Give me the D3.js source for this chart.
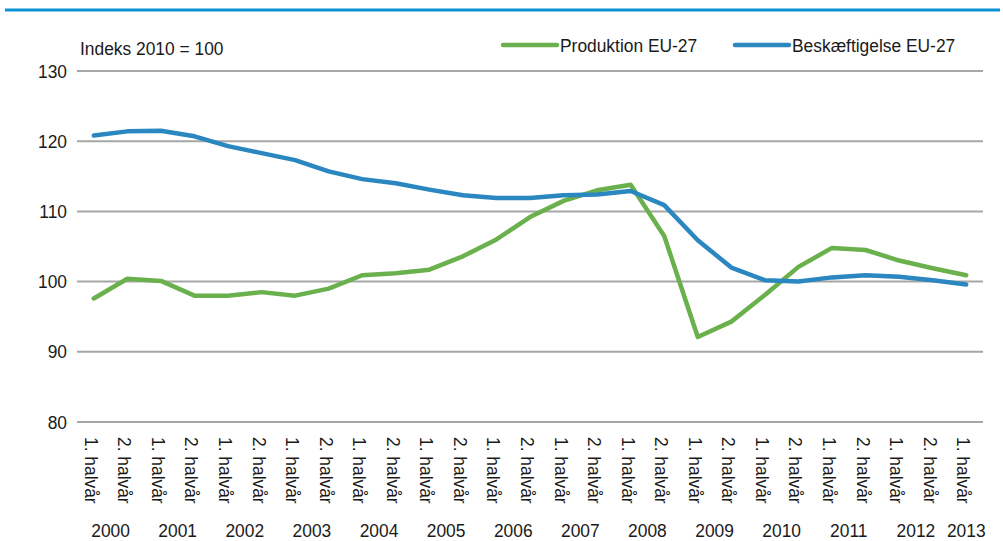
<!DOCTYPE html>
<meta charset="utf-8">
<style>
body {
  margin: 0;
  background: white;
  font-family: "Liberation Sans", Arial, sans-serif;
}
.grid line { stroke: #a6a6a6; stroke-width: 2px; }
.series { fill: none; stroke-width: 4.5px; stroke-linejoin: round; stroke-linecap: round; }
text { fill: #1a1a1a; font-size: 19px; }
</style>
<body>
<div id="chart"></div>
<script src="https://cdn.jsdelivr.net/npm/d3@7"></script>
<script>

var years = [2000, 2001, 2002, 2003, 2004, 2005, 2006, 2007, 2008, 2009, 2010, 2011, 2012, 2013];
var halves = ["1. halvår", "2. halvår"];

// 2000 H1 .. 2013 H1
var produktion = [97.6, 100.4, 100.1, 98.0, 98.0, 98.5, 98.0, 99.0, 100.9, 101.2, 101.7, 103.6,
                  106.0, 109.2, 111.5, 113.0, 113.8, 106.5, 92.1, 94.3, 98.1, 102.1, 104.8, 104.5,
                  103.0, 101.9, 100.9];
var beskaeftigelse = [120.8, 121.4, 121.5, 120.7, 119.3, 118.3, 117.3, 115.7, 114.6, 114.0, 113.1, 112.3,
                      111.9, 111.9, 112.3, 112.4, 112.9, 110.9, 105.9, 102.0, 100.2, 100.0, 100.6, 100.9,
                      100.7, 100.2, 99.6];
var yTicks = [80, 90, 100, 110, 120, 130];

var periods = [];
years.forEach(function(y) {
  halves.forEach(function(h, i) {
    if (periods.length < produktion.length) periods.push({ year: y, half: h, key: y + "-" + (i + 1) });
  });
});

var width = 1003, height = 541;
var margin = { left: 77, right: 20, top: 71, bottom: 119 };
var narrow = 0.915; // squeeze text to look like Arial Narrow

function at(x, y) {
  return "translate(" + x + "," + y + ") scale(" + narrow + ",1)";
}

var svg = d3.select("#chart").append("svg")
  .attr("width", width)
  .attr("height", height);

// top rule
svg.append("line")
  .attr("x1", 5).attr("x2", 1000)
  .attr("y1", 10).attr("y2", 10)
  .attr("stroke", "#0a94d6")
  .attr("stroke-width", 3);

var x = d3.scaleBand()
  .domain(periods.map(function(d) { return d.key; }))
  .range([margin.left, width - margin.right]);

var y = d3.scaleLinear()
  .domain([80, 130])
  .range([height - margin.bottom, margin.top]);

var grid = svg.append("g").attr("class", "grid");
grid.selectAll("line")
  .data(yTicks)
  .enter().append("line")
  .attr("x1", margin.left).attr("x2", width - margin.right)
  .attr("y1", function(d) { return y(d); })
  .attr("y2", function(d) { return y(d); });

svg.append("g").selectAll("text")
  .data(yTicks)
  .enter().append("text")
  .attr("transform", function(d) { return at(67, y(d)); })
  .attr("dy", "0.35em")
  .attr("text-anchor", "end")
  .text(function(d) { return d; });

svg.append("text")
  .attr("transform", at(80, 55))
  .text("Indeks 2010 = 100");

var cx = function(d) { return x(d) + x.bandwidth() / 2; };

// half-year labels, rotated
svg.append("g").selectAll("text")
  .data(periods)
  .enter().append("text")
  .attr("transform", function(d) {
    return "translate(" + (cx(d.key) - 9) + ",437) rotate(90) scale(" + narrow + ",1)";
  })
  .text(function(d) { return d.half; });

// year labels
svg.append("g").selectAll("text")
  .data(years)
  .enter().append("text")
  .attr("transform", function(yr) {
    var ks = periods.filter(function(p) { return p.year === yr; }).map(function(p) { return cx(p.key); });
    return at(d3.mean(ks), 537);
  })
  .attr("text-anchor", "middle")
  .text(function(d) { return d; });

var line = d3.line()
  .x(function(d, i) { return cx(periods[i].key); })
  .y(function(d) { return y(d); });

var series = [
  { name: "Produktion EU-27", values: produktion, color: "#6ab14d" },
  { name: "Beskæftigelse EU-27", values: beskaeftigelse, color: "#2a87c0" }
];

svg.selectAll("path.series")
  .data(series)
  .enter().append("path")
  .attr("class", "series")
  .attr("stroke", function(d) { return d.color; })
  .attr("d", function(d) { return line(d.values); });

// legend
var legendX = [503, 735];
var legend = svg.selectAll("g.legend")
  .data(series)
  .enter().append("g")
  .attr("class", "legend")
  .attr("transform", function(d, i) { return "translate(" + legendX[i] + ",45)"; });

legend.append("line")
  .attr("x1", 0).attr("x2", 54)
  .attr("stroke", function(d) { return d.color; })
  .attr("stroke-width", 4.5)
  .attr("stroke-linecap", "round");

legend.append("text")
  .attr("transform", at(57, 0))
  .attr("dy", "0.35em")
  .text(function(d) { return d.name; });

</script>
</body>
